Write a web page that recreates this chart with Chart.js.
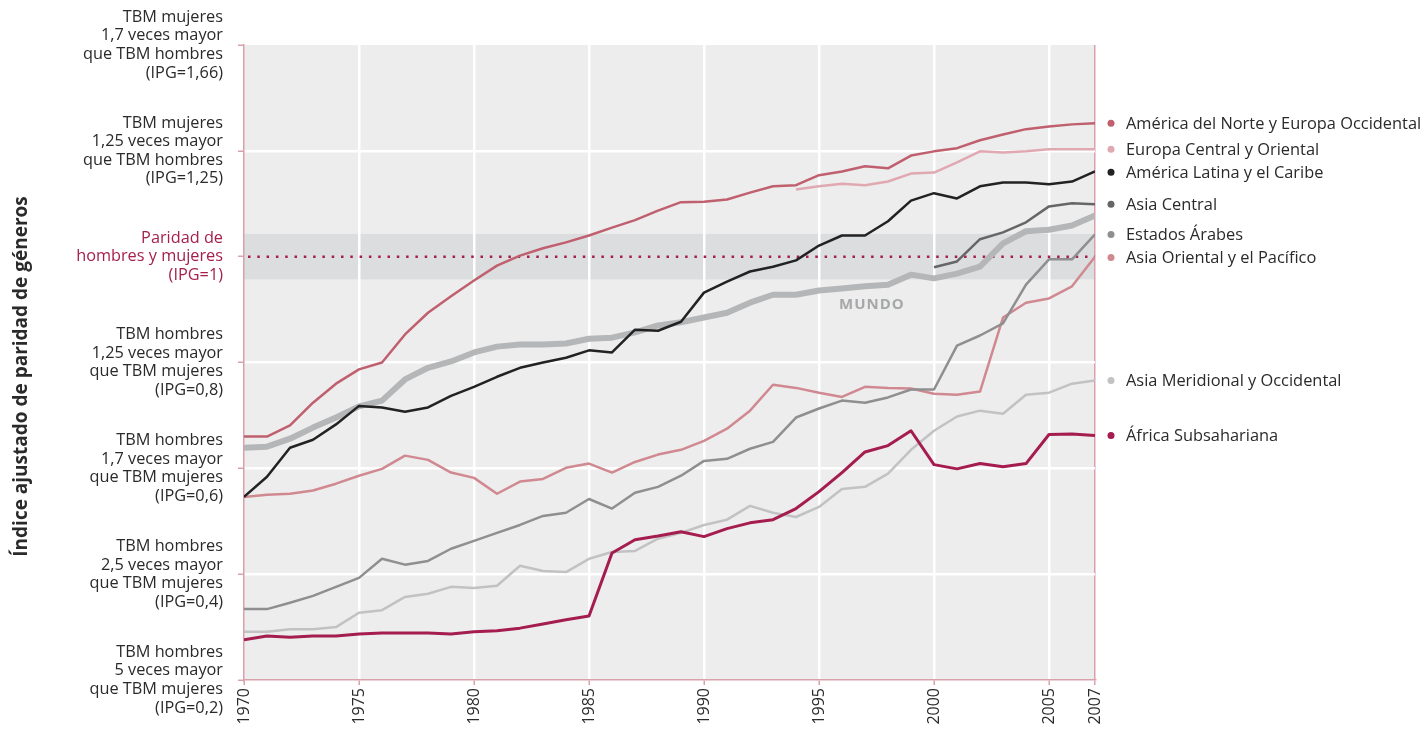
<!DOCTYPE html>
<html>
<head>
<meta charset="utf-8">
<script src="https://cdn.jsdelivr.net/npm/chart.js@4.4.1/dist/chart.umd.min.js"></script>
<style>
  body { margin: 0; background: #fff; }
  #wrap { width: 1425px; height: 731px; }
</style>
</head>
<body>
<div id="wrap"><canvas id="ipgChart" width="1425" height="731"></canvas></div>
<script>
// Índice ajustado de paridad de géneros (IPG ajustado), 1970-2007
const years = [1970, 1971, 1972, 1973, 1974, 1975, 1976, 1977, 1978, 1979,
  1980, 1981, 1982, 1983, 1984, 1985, 1986, 1987, 1988, 1989,
  1990, 1991, 1992, 1993, 1994, 1995, 1996, 1997, 1998, 1999,
  2000, 2001, 2002, 2003, 2004, 2005, 2006, 2007];

const norteOccidental = [0.660, 0.660, 0.681, 0.724, 0.760, 0.787, 0.800, 0.853, 0.894, 0.925,
  0.955, 0.983, 1.002, 1.016, 1.027, 1.040, 1.055, 1.069, 1.087, 1.103,
  1.104, 1.108, 1.121, 1.133, 1.135, 1.154, 1.161, 1.171, 1.167, 1.191,
  1.199, 1.205, 1.220, 1.231, 1.241, 1.246, 1.250, 1.252];

// empieza en 1994
const europaCentral = [1.127, 1.133, 1.138, 1.135, 1.142, 1.157, 1.159, 1.178, 1.199, 1.197,
  1.199, 1.203, 1.203, 1.203];
const europaCentralStart = 1994;

const latinaCaribe = [0.546, 0.584, 0.639, 0.654, 0.683, 0.718, 0.715, 0.707, 0.715, 0.737,
  0.754, 0.773, 0.790, 0.800, 0.809, 0.823, 0.819, 0.862, 0.860, 0.877,
  0.932, 0.953, 0.972, 0.981, 0.993, 1.021, 1.040, 1.040, 1.067, 1.106,
  1.120, 1.110, 1.133, 1.140, 1.140, 1.137, 1.142, 1.161];

// empieza en 2000
const asiaCentral = [0.980, 0.991, 1.033, 1.046, 1.065, 1.095, 1.101, 1.099];
const asiaCentralStart = 2000;

const mundo = [0.639, 0.641, 0.656, 0.677, 0.696, 0.717, 0.728, 0.768, 0.790, 0.802,
  0.819, 0.830, 0.834, 0.834, 0.836, 0.845, 0.847, 0.857, 0.870, 0.876,
  0.885, 0.894, 0.913, 0.928, 0.928, 0.936, 0.940, 0.944, 0.947, 0.966,
  0.959, 0.968, 0.981, 1.025, 1.048, 1.051, 1.059, 1.078];

const estadosArabes = [0.334, 0.334, 0.346, 0.359, 0.376, 0.393, 0.429, 0.418, 0.425, 0.448,
  0.463, 0.478, 0.493, 0.510, 0.516, 0.542, 0.524, 0.554, 0.565, 0.586,
  0.614, 0.618, 0.637, 0.650, 0.696, 0.713, 0.728, 0.724, 0.734, 0.749,
  0.749, 0.832, 0.851, 0.874, 0.947, 0.995, 0.995, 1.042];

const asiaOriental = [0.546, 0.550, 0.552, 0.558, 0.571, 0.586, 0.599, 0.624, 0.616, 0.592,
  0.582, 0.552, 0.575, 0.580, 0.601, 0.609, 0.592, 0.612, 0.626, 0.635,
  0.652, 0.675, 0.709, 0.758, 0.752, 0.743, 0.735, 0.754, 0.752, 0.751,
  0.741, 0.739, 0.745, 0.885, 0.913, 0.921, 0.944, 1.000];

const asiaMeridional = [0.291, 0.291, 0.296, 0.296, 0.300, 0.327, 0.332, 0.357, 0.363, 0.376,
  0.374, 0.378, 0.416, 0.406, 0.404, 0.429, 0.442, 0.444, 0.467, 0.478,
  0.493, 0.503, 0.529, 0.516, 0.508, 0.527, 0.561, 0.565, 0.590, 0.635,
  0.671, 0.698, 0.709, 0.703, 0.739, 0.743, 0.760, 0.766];

const africaSub = [0.276, 0.283, 0.281, 0.283, 0.283, 0.287, 0.289, 0.289, 0.289, 0.287,
  0.291, 0.293, 0.298, 0.306, 0.314, 0.321, 0.440, 0.465, 0.472, 0.480,
  0.471, 0.486, 0.497, 0.503, 0.524, 0.556, 0.592, 0.631, 0.643, 0.671,
  0.607, 0.599, 0.609, 0.603, 0.609, 0.664, 0.665, 0.662];

const xTicks = [1970, 1975, 1980, 1985, 1990, 1995, 2000, 2005, 2007];
const yTicks = [0.2, 0.4, 0.6, 0.8, 1.0, 1.2, 1.4];
const yTickLabels = [
  ['TBM hombres', '5 veces mayor', 'que TBM mujeres', '(IPG=0,2)'],
  ['TBM hombres', '2,5 veces mayor', 'que TBM mujeres', '(IPG=0,4)'],
  ['TBM hombres', '1,7 veces mayor', 'que TBM mujeres', '(IPG=0,6)'],
  ['TBM hombres', '1,25 veces mayor', 'que TBM mujeres', '(IPG=0,8)'],
  ['Paridad de', 'hombres y mujeres', '(IPG=1)'],
  ['TBM mujeres', '1,25 veces mayor', 'que TBM hombres', '(IPG=1,25)'],
  ['TBM mujeres', '1,7 veces mayor', 'que TBM hombres', '(IPG=1,66)']
];
const parityBand = [0.957, 1.043];
const yTitle = 'Índice ajustado de paridad de géneros';
const mundoLabelAt = { x: 1997.3, y: 0.91 };

const FONT = '"Open Sans", "Noto Sans", sans-serif';
const PINK_AXIS = '#d9a2ab';
const CRIMSON = '#a61e4d';
const TEXT = '#2a2a2a';

function toPoints(values, start) {
  return values.map((v, i) => ({ x: start + i, y: v }));
}

const series = [
  { label: 'América del Norte y Europa Occidental', data: toPoints(norteOccidental, 1970), color: '#c0606f', width: 2.5, order: 1 },
  { label: 'Europa Central y Oriental', data: toPoints(europaCentral, europaCentralStart), color: '#e0a9b1', width: 2.5, order: 2 },
  { label: 'América Latina y el Caribe', data: toPoints(latinaCaribe, 1970), color: '#222222', width: 2.5, order: 1 },
  { label: 'Asia Central', data: toPoints(asiaCentral, asiaCentralStart), color: '#666668', width: 2.5, order: 2 },
  { label: 'Estados Árabes', data: toPoints(estadosArabes, 1970), color: '#8f8f92', width: 2.5, order: 3 },
  { label: 'Asia Oriental y el Pacífico', data: toPoints(asiaOriental, 1970), color: '#d08990', width: 2.5, order: 3 },
  { label: 'Asia Meridional y Occidental', data: toPoints(asiaMeridional, 1970), color: '#c2c2c4', width: 2.5, order: 4 },
  { label: 'África Subsahariana', data: toPoints(africaSub, 1970), color: '#a51c4e', width: 3, order: 0 },
  { label: 'MUNDO', data: toPoints(mundo, 1970), color: '#b4b6b8', width: 6, order: 10, noLegend: true }
];

// fondo gris del área y franja de paridad
const backdrop = {
  id: 'backdrop',
  beforeDraw(chart) {
    const { ctx, chartArea: a, scales: { y } } = chart;
    ctx.save();
    ctx.fillStyle = '#ededed';
    ctx.fillRect(a.left, a.top, a.right - a.left, a.bottom - a.top);
    const t = y.getPixelForValue(parityBand[1]);
    const b = y.getPixelForValue(parityBand[0]);
    ctx.fillStyle = '#dcdddf';
    ctx.fillRect(a.left, t, a.right - a.left, b - t);
    ctx.restore();
  },
  beforeDatasetsDraw(chart) {
    const { ctx, chartArea: a, scales: { y } } = chart;
    const py = y.getPixelForValue(1.0);
    ctx.save();
    ctx.strokeStyle = CRIMSON;
    ctx.lineWidth = 2.5;
    ctx.setLineDash([2.5, 6.8]);
    ctx.beginPath();
    ctx.moveTo(a.left + 4, py);
    ctx.lineTo(a.right, py);
    ctx.stroke();
    ctx.restore();
  }
};

// etiquetas a la derecha, título del eje y rótulo MUNDO
const labels = {
  id: 'labels',
  afterDraw(chart) {
    const { ctx, chartArea: a, scales: { x, y } } = chart;
    ctx.save();

    // leyenda alineada con el último valor de cada serie
    const items = chart.data.datasets
      .filter(d => !d.noLegend)
      .map(d => ({ d, py: y.getPixelForValue(d.data[d.data.length - 1].y) }))
      .sort((p, q) => p.py - q.py);
    for (let i = 1; i < items.length; i++) {
      if (items[i].py - items[i - 1].py < 23) items[i].py = items[i - 1].py + 23;
    }
    ctx.font = '16.4px ' + FONT;
    ctx.textBaseline = 'middle';
    ctx.textAlign = 'left';
    items.forEach(it => {
      ctx.fillStyle = it.d.borderColor;
      ctx.beginPath();
      ctx.arc(a.right + 16, it.py, 3.5, 0, Math.PI * 2);
      ctx.fill();
      ctx.fillStyle = TEXT;
      ctx.fillText(it.d.label, a.right + 31, it.py + 1);
    });

    // MUNDO
    ctx.font = 'bold 15px ' + FONT;
    ctx.fillStyle = '#a5a7a9';
    ctx.textAlign = 'center';
    ctx.letterSpacing = '1px';
    ctx.fillText('MUNDO', x.getPixelForValue(mundoLabelAt.x), y.getPixelForValue(mundoLabelAt.y));
    ctx.letterSpacing = '0px';

    // título del eje vertical
    ctx.translate(22, (a.top + a.bottom) / 2 + 14);
    ctx.rotate(-Math.PI / 2);
    ctx.font = 'bold 19px ' + FONT;
    ctx.fillStyle = TEXT;
    ctx.fillText(yTitle, 0, 0);
    ctx.restore();
  }
};

new Chart(document.getElementById('ipgChart'), {
  type: 'line',
  data: {
    datasets: series.map(s => ({
      label: s.label,
      data: s.data,
      borderColor: s.color,
      backgroundColor: s.color,
      borderWidth: s.width,
      order: s.order,
      noLegend: !!s.noLegend,
      pointRadius: 0,
      tension: 0,
      fill: false,
      borderJoinStyle: 'round'
    }))
  },
  options: {
    responsive: false,
    animation: false,
    layout: { padding: { top: 45, right: 330, bottom: 0, left: 0 } },
    plugins: { legend: { display: false }, tooltip: { enabled: false }, title: { display: false } },
    scales: {
      x: {
        type: 'linear',
        min: 1970,
        max: 2007,
        afterBuildTicks: s => { s.ticks = xTicks.map(v => ({ value: v })); },
        afterFit: s => { s.height = 51; s.paddingLeft = 0; s.paddingRight = 0; },
        ticks: {
          autoSkip: false,
          minRotation: 90,
          maxRotation: 90,
          padding: 3,
          color: TEXT,
          font: { family: FONT, size: 16 },
          callback: v => String(v)
        },
        grid: {
          color: c => c.tick && c.tick.value === 1970 ? 'rgba(0,0,0,0)' : (c.tick && c.tick.value === 2007 ? PINK_AXIS : '#ffffff'),
          lineWidth: c => c.tick && c.tick.value === 2007 ? 1.5 : 2.5,
          tickColor: PINK_AXIS,
          tickLength: 5,
          tickWidth: 1.5
        },
        border: { color: PINK_AXIS, width: 1.5 }
      },
      y: {
        type: 'linear',
        min: 0.2,
        max: 1.4,
        afterBuildTicks: s => { s.ticks = yTicks.map(v => ({ value: v })); },
        afterFit: s => { s.width = 244; s.paddingTop = 0; s.paddingBottom = 0; },
        ticks: {
          autoSkip: false,
          padding: 15,
          color: c => c.index === 4 ? CRIMSON : TEXT,
          font: { family: FONT, size: 16.3, lineHeight: 1.14 },
          callback: (v, i) => yTickLabels[i]
        },
        grid: {
          color: c => (c.index === 0 || c.index === 4 || c.index === 6) ? 'rgba(0,0,0,0)' : '#ffffff',
          lineWidth: 2.5,
          tickColor: PINK_AXIS,
          tickLength: 6,
          tickWidth: 1.5
        },
        border: { color: PINK_AXIS, width: 1.5 }
      }
    }
  },
  plugins: [backdrop, labels]
});
</script>
</body>
</html>
